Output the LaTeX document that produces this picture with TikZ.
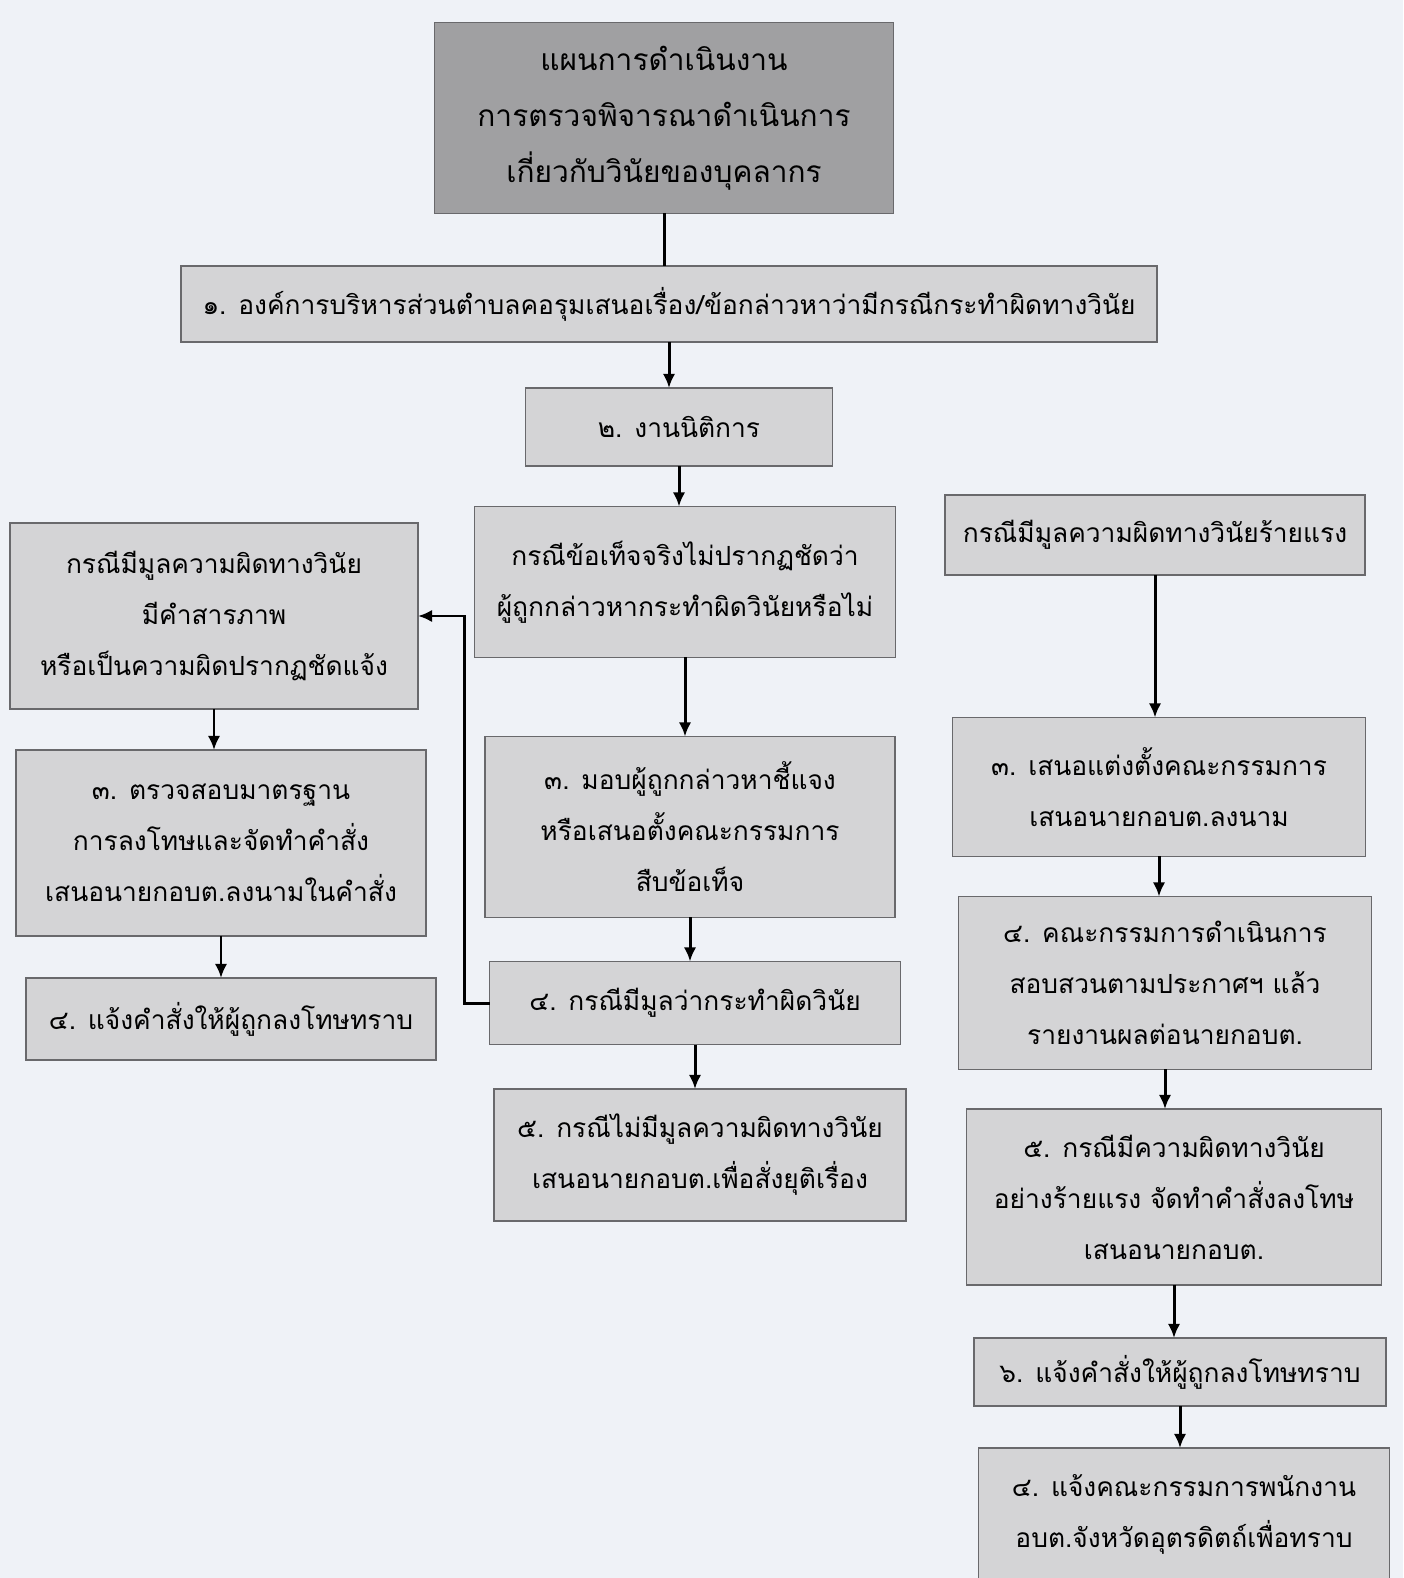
\documentclass[tikz,border=0pt]{standalone}
\usepackage{fontspec}
\newfontfamily\thaifont[Script=Thai]{Loma}
\usepackage{tikz}
\usetikzlibrary{arrows.meta}
\usepackage{xcolor}
\definecolor{paper}{RGB}{239,242,247}
\definecolor{boxgray}{RGB}{212,212,214}
\definecolor{headgray}{RGB}{160,160,162}
\definecolor{edgegray}{RGB}{105,105,108}

\begin{document}
\begin{tikzpicture}[x=0.02cm, y=-0.02cm,
    every node/.style={draw=edgegray, line width=0.8pt, fill=boxgray, align=center, inner sep=0pt, outer sep=0pt, font=\thaifont\fontsize{15}{29}\selectfont},
    headbox/.style={fill=headgray, font=\thaifont\fontsize{17}{32}\selectfont},
    arr/.style={line width=1.7pt, -{Latex[length=8pt, width=7pt]}}]
    % Page
    \fill[paper] (0,0) rectangle (1403,1578);
    \useasboundingbox (0,0) rectangle (1403,1578);
    \clip (0,0) rectangle (1403,1578);

    % Top of the chart
    \node[headbox, minimum width=9.18cm, minimum height=3.82cm] (head) at (664,118) {แผนการดำเนินงาน\\การตรวจพิจารณาดำเนินการ\\เกี่ยวกับวินัยของบุคลากร};
    \node[minimum width=19.52cm, minimum height=1.52cm] (step1) at (669,304) {๑. องค์การบริหารส่วนตำบลคอรุมเสนอเรื่อง/ข้อกล่าวหาว่ามีกรณีกระทำผิดทางวินัย};
    \node[minimum width=6.14cm, minimum height=1.56cm] (step2) at (679,427) {๒. งานนิติการ};

    % Middle branch
    \node[minimum width=8.42cm, minimum height=3.02cm] (midcase) at (685,582) {กรณีข้อเท็จจริงไม่ปรากฏชัดว่า\\ผู้ถูกกล่าวหากระทำผิดวินัยหรือไม่};
    \node[minimum width=8.2cm, minimum height=3.62cm] (mid3) at (690,827) {๓. มอบผู้ถูกกล่าวหาชี้แจง\\หรือเสนอตั้งคณะกรรมการ\\สืบข้อเท็จ};
    \node[minimum width=8.22cm, minimum height=1.66cm] (mid4) at (695,1003) {๔. กรณีมีมูลว่ากระทำผิดวินัย};
    \node[minimum width=8.24cm, minimum height=2.64cm] (mid5) at (700,1155) {๕. กรณีไม่มีมูลความผิดทางวินัย\\เสนอนายกอบต.เพื่อสั่งยุติเรื่อง};

    % Left branch
    \node[minimum width=8.16cm, minimum height=3.72cm] (leftcase) at (214,616) {กรณีมีมูลความผิดทางวินัย\\มีคำสารภาพ\\หรือเป็นความผิดปรากฏชัดแจ้ง};
    \node[minimum width=8.2cm, minimum height=3.72cm] (left3) at (221,843) {๓. ตรวจสอบมาตรฐาน\\การลงโทษและจัดทำคำสั่ง\\เสนอนายกอบต.ลงนามในคำสั่ง};
    \node[minimum width=8.2cm, minimum height=1.64cm] (left4) at (231,1019) {๔. แจ้งคำสั่งให้ผู้ถูกลงโทษทราบ};

    % Right branch
    \node[minimum width=8.4cm, minimum height=1.6cm] (rightcase) at (1155,535) {กรณีมีมูลความผิดทางวินัยร้ายแรง};
    \node[minimum width=8.26cm, minimum height=2.78cm] (right3) at (1159,787) {๓. เสนอแต่งตั้งคณะกรรมการ\\เสนอนายกอบต.ลงนาม};
    \node[minimum width=8.26cm, minimum height=3.46cm] (right4) at (1165,983) {๔. คณะกรรมการดำเนินการ\\สอบสวนตามประกาศฯ แล้ว\\รายงานผลต่อนายกอบต.};
    \node[minimum width=8.3cm, minimum height=3.52cm] (right5) at (1174,1197) {๕. กรณีมีความผิดทางวินัย\\อย่างร้ายแรง จัดทำคำสั่งลงโทษ\\เสนอนายกอบต.};
    \node[minimum width=8.24cm, minimum height=1.36cm] (right6) at (1180,1372) {๖. แจ้งคำสั่งให้ผู้ถูกลงโทษทราบ};
    \node[minimum width=8.22cm, minimum height=2.64cm] (right7) at (1184,1514) {๔. แจ้งคณะกรรมการพนักงาน\\อบต.จังหวัดอุตรดิตถ์เพื่อทราบ};

    % Connectors
    \draw[line width=1.7pt] (head.south) -- (head.south |- step1.north);
    \draw[arr] (step1.south) -- (step1.south |- step2.north);
    \draw[arr] (step2.south) -- (step2.south |- midcase.north);
    \draw[arr] (midcase.south) -- (midcase.south |- mid3.north);
    \draw[arr] (mid3.south) -- (mid3.south |- mid4.north);
    \draw[arr] (mid4.south) -- (mid4.south |- mid5.north);
    \draw[arr] (mid4.west) -- ++(-25,0) |- (leftcase.east);
    \draw[arr] (leftcase.south) -- (leftcase.south |- left3.north);
    \draw[arr] (left3.south) -- (left3.south |- left4.north);
    \draw[arr] (rightcase.south) -- (rightcase.south |- right3.north);
    \draw[arr] (right3.south) -- (right3.south |- right4.north);
    \draw[arr] (right4.south) -- (right4.south |- right5.north);
    \draw[arr] (right5.south) -- (right5.south |- right6.north);
    \draw[arr] (right6.south) -- (right6.south |- right7.north);

\end{tikzpicture}
\end{document}
